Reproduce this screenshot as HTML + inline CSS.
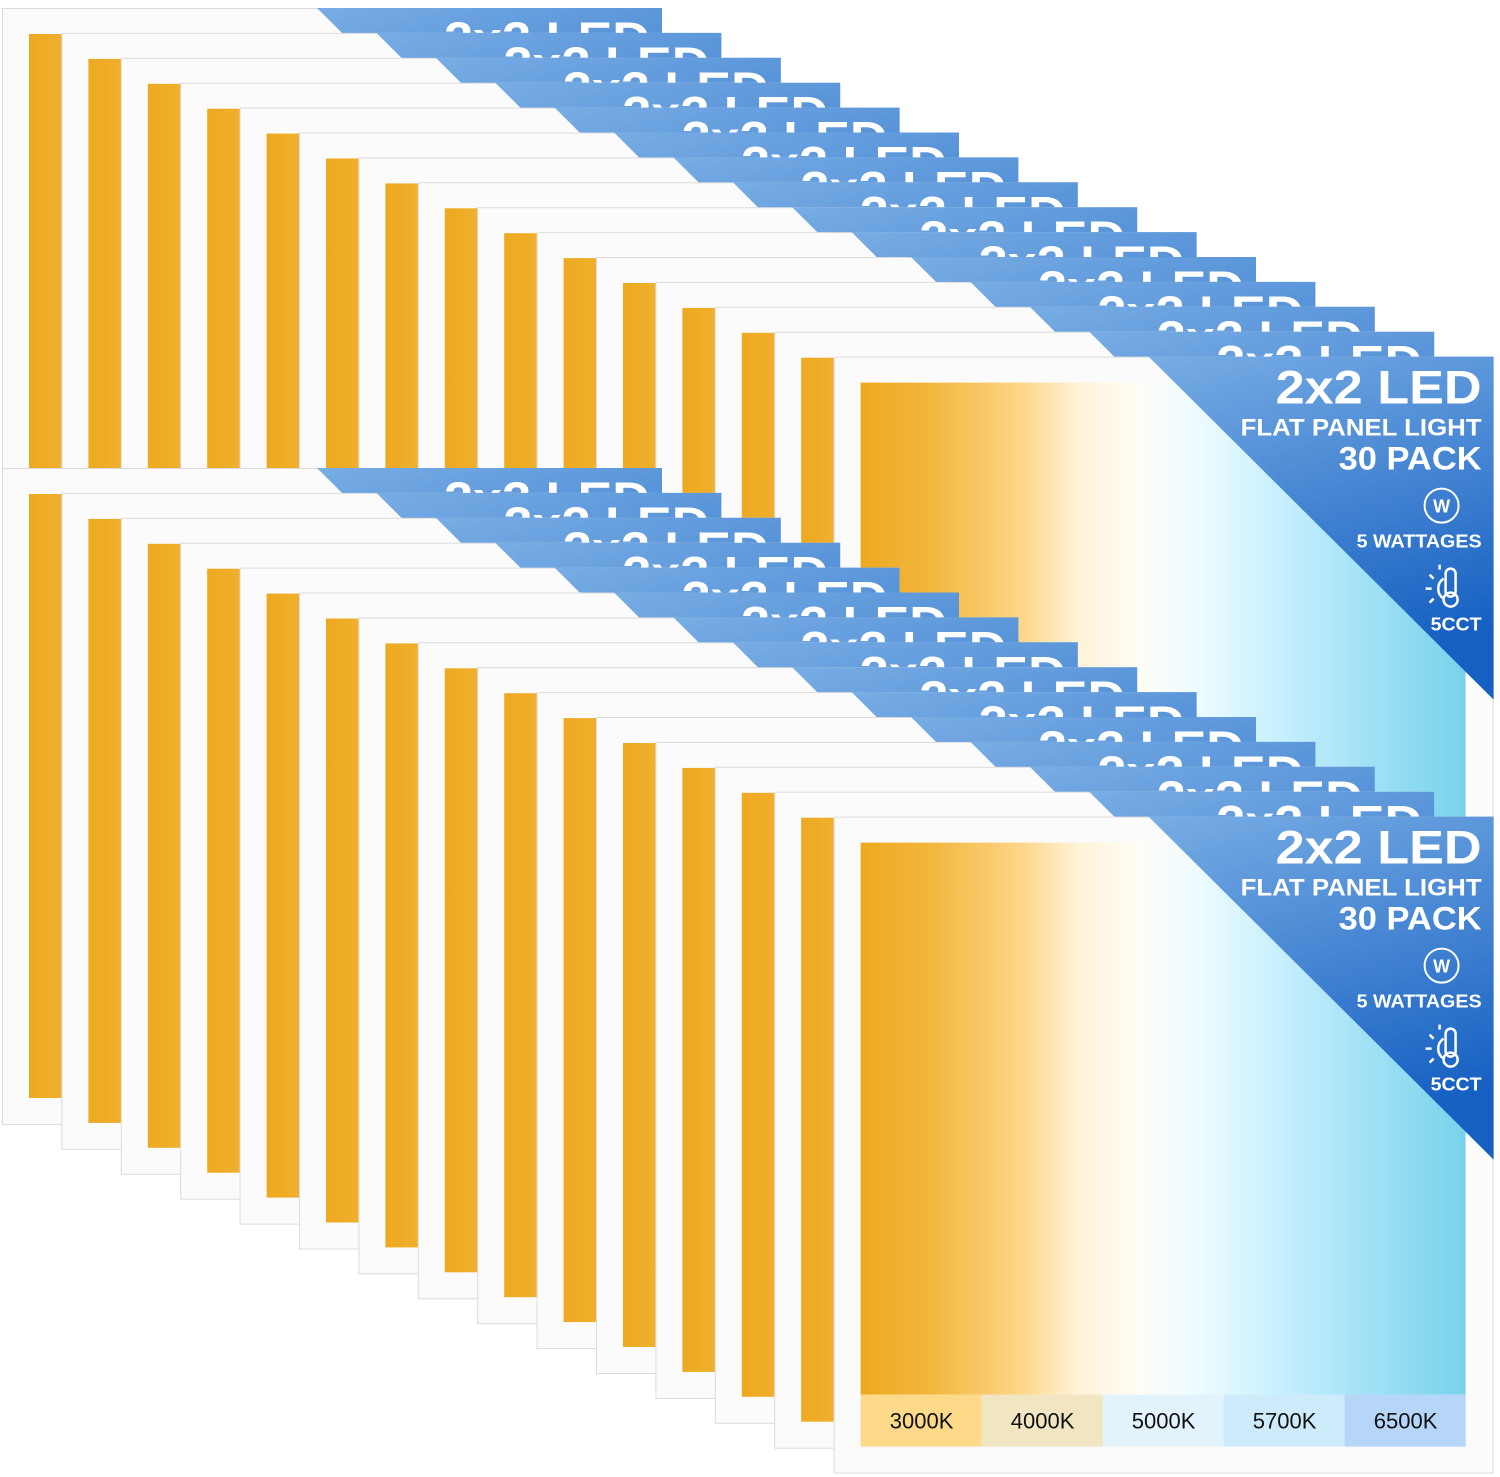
<!DOCTYPE html>
<html><head><meta charset="utf-8"><style>
html,body{margin:0;padding:0;background:#fff;}
svg{display:block;}
text{font-family:"Liberation Sans",sans-serif;}
</style></head><body>
<svg width="1500" height="1477" viewBox="0 0 1500 1477" xmlns="http://www.w3.org/2000/svg">
<defs>
<linearGradient id="g" x1="0" x2="1" y1="0" y2="0">
<stop offset="0" stop-color="#eda91f"/>
<stop offset="0.12" stop-color="#f3b73f"/>
<stop offset="0.26" stop-color="#fcd585"/>
<stop offset="0.36" stop-color="#fff3d8"/>
<stop offset="0.46" stop-color="#fffdf6"/>
<stop offset="0.55" stop-color="#effcff"/>
<stop offset="0.7" stop-color="#c4efff"/>
<stop offset="1" stop-color="#78d2ea"/>
</linearGradient>
<linearGradient id="b" x1="0" x2="0.3" y1="0" y2="1">
<stop offset="0" stop-color="#78ade4"/>
<stop offset="1" stop-color="#1660c2"/>
</linearGradient>
<g id="p">
<rect x="0.5" y="0.5" width="659" height="656" fill="#fbfbfb" stroke="#dcdcdc"/>
<rect x="27" y="26" width="605" height="604" fill="url(#g)"/>
<polygon points="315,0 660,0 660,343" fill="url(#b)"/>
</g>
<g id="t">
<text x="648" y="47" text-anchor="end" font-size="47" font-weight="bold" fill="#fff" textLength="206" lengthAdjust="spacingAndGlyphs">2x2 LED</text>
</g>
<g id="f">
<rect x="27" y="578" width="605" height="60" fill="#fbfbfb"/>
<rect x="27" y="578" width="121" height="52" fill="#fdd98a"/>
<rect x="148" y="578" width="121" height="52" fill="#f1e5c2"/>
<rect x="269" y="578" width="121" height="52" fill="#e2f3fb"/>
<rect x="390" y="578" width="121" height="52" fill="#cdebfb"/>
<rect x="511" y="578" width="121" height="52" fill="#b5d6f8"/>
<text x="648" y="79" text-anchor="end" font-size="24" font-weight="bold" fill="#fff" textLength="241" lengthAdjust="spacingAndGlyphs">FLAT PANEL LIGHT</text>
<text x="648" y="113" text-anchor="end" font-size="32" font-weight="bold" fill="#fff" textLength="143" lengthAdjust="spacingAndGlyphs">30 PACK</text>
<circle cx="608" cy="149" r="17" fill="none" stroke="#fff" stroke-width="2"/>
<text x="608" y="156" text-anchor="middle" font-size="18" font-weight="bold" fill="#fff">W</text>
<text x="648" y="191" text-anchor="end" font-size="18" font-weight="bold" fill="#fff" textLength="125" lengthAdjust="spacingAndGlyphs">5 WATTAGES</text>
<rect x="612" y="212" width="10" height="28" rx="5" fill="none" stroke="#fff" stroke-width="2.5"/>
<circle cx="617" cy="243" r="7" fill="none" stroke="#fff" stroke-width="2.5"/>
<path d="M610 222 A12 12 0 0 0 610 242" fill="none" stroke="#fff" stroke-width="2.5"/>
<path d="M592 232 h6 M596 218 l4 4 M596 246 l4 -4 M606 208 v5" stroke="#fff" stroke-width="2.5"/>
<text x="648" y="274" text-anchor="end" font-size="18" font-weight="bold" fill="#fff" textLength="51" lengthAdjust="spacingAndGlyphs">5CCT</text>
<g font-size="22" fill="#111" text-anchor="middle">
<text x="88" y="612">3000K</text><text x="209" y="612">4000K</text><text x="330" y="612">5000K</text><text x="451" y="612">5700K</text><text x="572" y="612">6500K</text>
</g>
</g>
</defs>
<g transform="translate(2,8)"><use href="#p"/><use href="#t"/></g>
<g transform="translate(61.4,32.9)"><use href="#p"/><use href="#t"/></g>
<g transform="translate(120.8,57.8)"><use href="#p"/><use href="#t"/></g>
<g transform="translate(180.2,82.7)"><use href="#p"/><use href="#t"/></g>
<g transform="translate(239.6,107.6)"><use href="#p"/><use href="#t"/></g>
<g transform="translate(299,132.5)"><use href="#p"/><use href="#t"/></g>
<g transform="translate(358.4,157.4)"><use href="#p"/><use href="#t"/></g>
<g transform="translate(417.8,182.3)"><use href="#p"/><use href="#t"/></g>
<g transform="translate(477.2,207.2)"><use href="#p"/><use href="#t"/></g>
<g transform="translate(536.6,232.1)"><use href="#p"/><use href="#t"/></g>
<g transform="translate(596,257)"><use href="#p"/><use href="#t"/></g>
<g transform="translate(655.4,281.9)"><use href="#p"/><use href="#t"/></g>
<g transform="translate(714.8,306.8)"><use href="#p"/><use href="#t"/></g>
<g transform="translate(774.2,331.7)"><use href="#p"/><use href="#t"/></g>
<g transform="translate(833.6,356.6)"><use href="#p"/><use href="#t"/><use href="#f"/></g>

<g transform="translate(2,468)"><use href="#p"/><use href="#t"/></g>
<g transform="translate(61.4,492.9)"><use href="#p"/><use href="#t"/></g>
<g transform="translate(120.8,517.8)"><use href="#p"/><use href="#t"/></g>
<g transform="translate(180.2,542.7)"><use href="#p"/><use href="#t"/></g>
<g transform="translate(239.6,567.6)"><use href="#p"/><use href="#t"/></g>
<g transform="translate(299,592.5)"><use href="#p"/><use href="#t"/></g>
<g transform="translate(358.4,617.4)"><use href="#p"/><use href="#t"/></g>
<g transform="translate(417.8,642.3)"><use href="#p"/><use href="#t"/></g>
<g transform="translate(477.2,667.2)"><use href="#p"/><use href="#t"/></g>
<g transform="translate(536.6,692.1)"><use href="#p"/><use href="#t"/></g>
<g transform="translate(596,717)"><use href="#p"/><use href="#t"/></g>
<g transform="translate(655.4,741.9)"><use href="#p"/><use href="#t"/></g>
<g transform="translate(714.8,766.8)"><use href="#p"/><use href="#t"/></g>
<g transform="translate(774.2,791.7)"><use href="#p"/><use href="#t"/></g>
<g transform="translate(833.6,816.6)"><use href="#p"/><use href="#t"/><use href="#f"/></g>
</svg>
</body></html>
